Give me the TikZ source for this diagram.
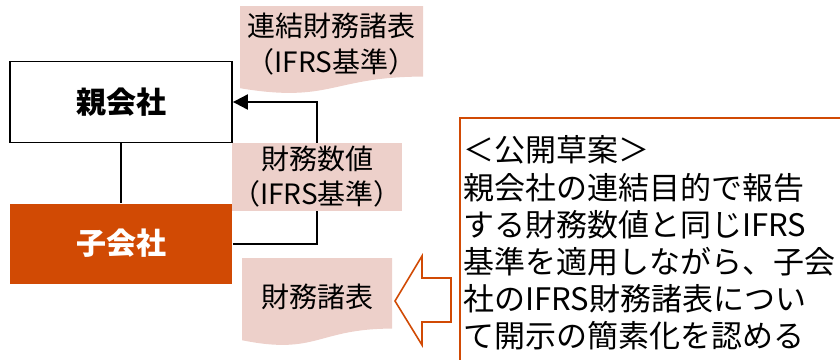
\documentclass[tikz,border=0pt]{standalone}
\usepackage{fontspec}
\setmainfont{Noto Sans CJK JP}
\usetikzlibrary{arrows.meta}
\definecolor{pwcorange}{RGB}{209,74,4}
\definecolor{pinkfill}{RGB}{237,208,202}
\XeTeXlinebreaklocale "ja"
\XeTeXlinebreakskip=0pt plus 1pt
\tikzset{
  entity/.style={minimum width=222pt, minimum height=81pt, inner sep=0pt,
    font=\fontsize{30}{36}\selectfont\bfseries, line width=1.8pt},
  link/.style={line width=2pt, draw=black},
  pinklabel/.style={fill=pinkfill, inner sep=0pt, align=center,
    font=\fontsize{28}{35}\selectfont},
  doctext/.style={inner sep=0pt, align=center, font=\fontsize{28}{36}\selectfont},
  propline/.style={anchor=base west, inner sep=0pt, font=\fontsize{31}{37}\selectfont},
  hollowarrow/.style={draw=pwcorange, line width=1.6pt, fill=white, line join=miter},
}
\newcommand{\justline}[1]{\hbox to 374pt{#1}}
\begin{document}
\begin{tikzpicture}[x=1pt,y=-1pt]
\useasboundingbox (0,0) rectangle (840,359);
% boxes
\node[entity, draw=black, fill=white] (parent) at (121,102) {親会社};
\node[entity, fill=pwcorange, text=white, minimum height=80pt] (child) at (121,243.5) {子会社};
% connectors
\draw[link] (parent.south) -- (child.north);
\coordinate (bend) at (317,243.5);
\draw[link, -{Triangle[length=15pt,width=15pt]}] (child.east) -- (bend) |- (parent.east);
% middle label
\node[pinklabel, minimum width=152pt, minimum height=68pt] (values) at (317,177) {財務数値\\（IFRS基準）};
% document shape 1
\fill[pinkfill] (240,6) -- (423,6) -- (423,76.6) .. controls (331.5,76.6) and (331.5,103.5) .. (240,88.2) -- cycle;
\node[doctext] (consol) at (331.5,44) {連結財務諸表\\（IFRS基準）};
% document shape 2
\fill[pinkfill] (242,258) -- (392,258) -- (392,328.6) .. controls (317,328.6) and (317,355.5) .. (242,340.2) -- cycle;
\node[doctext] (fs) at (317,297) {財務諸表};
% hollow arrow
\draw[hollowarrow] (395,301) -- (422,256) -- (422,278) -- (451,278) -- (451,322) -- (422,322) -- (422,345) -- cycle;
% proposal box
\draw[pwcorange, line width=2pt] (459.5,118) rectangle (860,380);
\node[propline] (p1) at (463,161) {＜公開草案＞};
\node[propline] (p2) at (463,199) {\justline{親会社の連結目的で報告}};
\node[propline] (p3) at (463,236) {\justline{する財務数値と同じIFRS}};
\node[propline] (p4) at (463,273) {\justline{基準を適用しながら、子会}};
\node[propline] (p5) at (463,310) {\justline{社のIFRS財務諸表につい}};
\node[propline] (p6) at (463,347) {て開示の簡素化を認める};
\end{tikzpicture}
\end{document}
